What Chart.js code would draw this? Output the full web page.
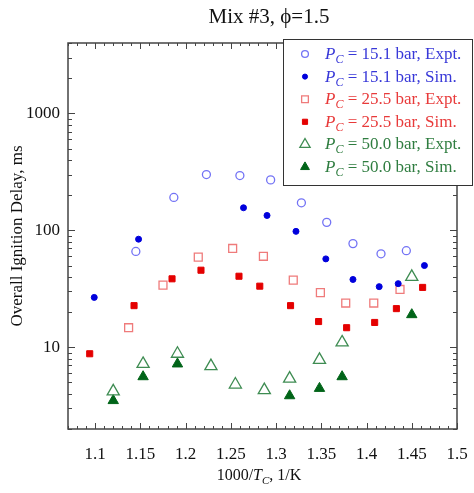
<!DOCTYPE html>
<html lang="en">
<head>
<meta charset="UTF-8">
<title>Mix #3 ignition delay</title>
<script src="https://cdn.jsdelivr.net/npm/chart.js@4.4.1/dist/chart.umd.min.js"></script>
<style>
  html, body { margin: 0; padding: 0; background: #fff; }
  #wrap { width: 474px; height: 493px; }
</style>
</head>
<body>
<div id="wrap"><canvas id="chart" width="474" height="493"></canvas></div>
<script>
// 1000/T_C (1/K) and overall ignition delay (ms)
const x15Expt = [1.145, 1.187, 1.223, 1.260, 1.294, 1.328, 1.356, 1.385, 1.416, 1.444];
const y15Expt = [66, 191, 300, 294, 270, 172, 117, 77, 63, 67];
const x15Sim = [1.099, 1.148, 1.264, 1.290, 1.322, 1.355, 1.385, 1.414, 1.435, 1.464];
const y15Sim = [26.7, 84, 156, 134, 98, 57, 38, 33, 35, 50];
const x25Expt = [1.137, 1.175, 1.214, 1.252, 1.286, 1.319, 1.349, 1.377, 1.408, 1.437];
const y25Expt = [14.7, 34, 59, 70, 60, 37.5, 29.3, 23.9, 23.9, 31.2];
const x25Sim = [1.094, 1.143, 1.185, 1.217, 1.259, 1.282, 1.316, 1.347, 1.378, 1.409, 1.433, 1.462];
const y25Sim = [8.8, 22.7, 38.5, 45.6, 40.5, 33.3, 22.7, 16.6, 14.7, 16.3, 21.4, 32.5];
const x50Expt = [1.120, 1.153, 1.191, 1.228, 1.255, 1.287, 1.315, 1.348, 1.373, 1.450];
const y50Expt = [4.2, 7.2, 8.8, 6.9, 4.8, 4.3, 5.4, 7.8, 11.0, 40];
const x50Sim = [1.120, 1.153, 1.191, 1.315, 1.348, 1.373, 1.450];
const y50Sim = [3.5, 5.6, 7.2, 3.85, 4.45, 5.6, 19];

const xTicks = [1.1, 1.15, 1.2, 1.25, 1.3, 1.35, 1.4, 1.45, 1.5];
const yTicks = [10, 100, 1000];
const legendPressures = ['15.1', '15.1', '25.5', '25.5', '50.0', '50.0'];
const legendKinds = ['Expt.', 'Sim.', 'Expt.', 'Sim.', 'Expt.', 'Sim.'];
const legendColors = ['#3838d8', '#3838d8', '#e83a3a', '#e83a3a', '#2f7d40', '#2f7d40'];

const SERIF = '"Liberation Serif", "Times New Roman", serif';

function pts(xs, ys) {
  return xs.map((x, i) => ({x: x, y: ys[i]}));
}

const datasets = [
  {data: pts(x15Expt, y15Expt), pointStyle: 'circle', pointRadius: 4, borderColor: '#7373f5', backgroundColor: 'rgba(0,0,0,0)', borderWidth: 1.3},
  {data: pts(x15Sim, y15Sim), pointStyle: 'circle', pointRadius: 3, borderColor: '#0000dc', backgroundColor: '#0000dc', borderWidth: 1},
  {data: pts(x25Expt, y25Expt), pointStyle: 'rect', pointRadius: 5.6, borderColor: '#ef7b7b', backgroundColor: 'rgba(0,0,0,0)', borderWidth: 1.3},
  {data: pts(x25Sim, y25Sim), pointStyle: 'rect', pointRadius: 4.3, borderColor: '#e40000', backgroundColor: '#e40000', borderWidth: 1},
  {data: pts(x50Expt, y50Expt), pointStyle: 'triangle', pointRadius: 7, borderColor: '#3e8c52', backgroundColor: 'rgba(0,0,0,0)', borderWidth: 1.3},
  {data: pts(x50Sim, y50Sim), pointStyle: 'triangle', pointRadius: 6, borderColor: '#006418', backgroundColor: '#006418', borderWidth: 1}
];
datasets.forEach(d => { d.showLine = false; d.pointHoverRadius = d.pointRadius; });

// frame, inward ticks, titles and legend
const decor = {
  id: 'decor',
  afterDraw(chart) {
    const ctx = chart.ctx;
    const a = chart.chartArea;
    const xs = chart.scales.x, ys = chart.scales.y;
    ctx.save();
    ctx.strokeStyle = '#444';
    ctx.lineWidth = 1.5;
    ctx.strokeRect(a.left, a.top, a.right - a.left, a.bottom - a.top);

    ctx.lineWidth = 1;
    ctx.beginPath();
    for (let i = 0; i <= 43; i++) {
      const v = 1.07 + i * 0.01;
      const px = Math.round(xs.getPixelForValue(v)) + 0.5;
      const major = xTicks.some(t => Math.abs(t - v) < 1e-6);
      const len = major ? 6 : 3;
      ctx.moveTo(px, a.bottom); ctx.lineTo(px, a.bottom - len);
      ctx.moveTo(px, a.top); ctx.lineTo(px, a.top + len);
    }
    for (let e = 0; e <= 3; e++) {
      for (let m = 1; m <= 9; m++) {
        const v = m * Math.pow(10, e);
        if (v < 2 || v > 4000) continue;
        const py = Math.round(ys.getPixelForValue(v)) + 0.5;
        const len = m === 1 ? 7 : 4;
        ctx.moveTo(a.left, py); ctx.lineTo(a.left + len, py);
        ctx.moveTo(a.right, py); ctx.lineTo(a.right - len, py);
      }
    }
    ctx.stroke();

    // chart title
    ctx.fillStyle = '#111';
    ctx.textAlign = 'center';
    ctx.textBaseline = 'alphabetic';
    ctx.font = '21px ' + SERIF;
    ctx.fillText('Mix #3, \u03d5=1.5', 269, 23);

    // y axis title
    ctx.save();
    ctx.translate(22, (a.top + a.bottom) / 2);
    ctx.rotate(-Math.PI / 2);
    ctx.font = '17px ' + SERIF;
    ctx.fillText('Overall Ignition Delay, ms', 0, 0);
    ctx.restore();

    // x axis title with italic T and subscript C
    const parts = [
      {t: '1000/', f: '16px ' + SERIF, dy: 0},
      {t: 'T', f: 'italic 16px ' + SERIF, dy: 0},
      {t: 'C', f: 'italic 11px ' + SERIF, dy: 4},
      {t: ', 1/K', f: '16px ' + SERIF, dy: 0}
    ];
    drawParts(ctx, parts, 259, 480, 'center');

    // legend
    const lx = 283, ly = 39, lw = 189, lh = 146;
    ctx.fillStyle = '#fff';
    ctx.fillRect(lx, ly, lw, lh);
    ctx.strokeStyle = '#333';
    ctx.lineWidth = 1;
    ctx.strokeRect(lx + 0.5, ly + 0.5, lw, lh);
    for (let i = 0; i < 6; i++) {
      const cy = 54 + i * 22.6;
      const ds = datasets[i];
      ctx.fillStyle = ds.backgroundColor;
      ctx.strokeStyle = ds.borderColor;
      ctx.lineWidth = ds.borderWidth;
      Chart.helpers.drawPoint(ctx, {
        pointStyle: ds.pointStyle, rotation: 0, borderWidth: ds.borderWidth,
        radius: ds.pointRadius * 0.85
      }, 305, cy);
      ctx.fillStyle = legendColors[i];
      drawParts(ctx, [
        {t: 'P', f: 'italic 17px ' + SERIF, dy: 0},
        {t: 'C', f: 'italic 12px ' + SERIF, dy: 4},
        {t: ' = ' + legendPressures[i] + ' bar, ' + legendKinds[i], f: '17px ' + SERIF, dy: 0}
      ], 325, cy + 5, 'left');
    }
    ctx.restore();
  }
};

function drawParts(ctx, parts, x, y, align) {
  let total = 0;
  parts.forEach(p => { ctx.font = p.f; p.w = ctx.measureText(p.t).width; total += p.w; });
  let cx = align === 'center' ? x - total / 2 : x;
  ctx.textAlign = 'left';
  ctx.textBaseline = 'alphabetic';
  parts.forEach(p => {
    ctx.font = p.f;
    ctx.fillText(p.t, cx, y + p.dy);
    cx += p.w;
  });
}

new Chart(document.getElementById('chart'), {
  type: 'scatter',
  data: {datasets: datasets},
  options: {
    responsive: false,
    animation: false,
    events: [],
    layout: {padding: {top: 43, right: 17, left: 0, bottom: 0}},
    plugins: {legend: {display: false}, title: {display: false}, tooltip: {enabled: false}},
    scales: {
      x: {
        type: 'linear', min: 1.07, max: 1.5,
        grid: {display: false, drawTicks: false},
        border: {display: false},
        afterBuildTicks: s => { s.ticks = xTicks.map(v => ({value: v})); },
        afterFit: s => { s.height = 64; s.paddingLeft = 0; s.paddingRight = 0; },
        ticks: {padding: 15, color: '#111', font: {family: SERIF, size: 17}, callback: v => String(v), maxRotation: 0, autoSkip: false}
      },
      y: {
        type: 'logarithmic', min: 2, max: 4000,
        grid: {display: false, drawTicks: false},
        border: {display: false},
        afterBuildTicks: s => { s.ticks = yTicks.map(v => ({value: v})); },
        afterFit: s => { s.width = 68; s.paddingTop = 0; s.paddingBottom = 0; },
        ticks: {padding: 8, color: '#111', font: {family: SERIF, size: 17}, callback: v => String(v), autoSkip: false}
      }
    }
  },
  plugins: [decor]
});
</script>
</body>
</html>
